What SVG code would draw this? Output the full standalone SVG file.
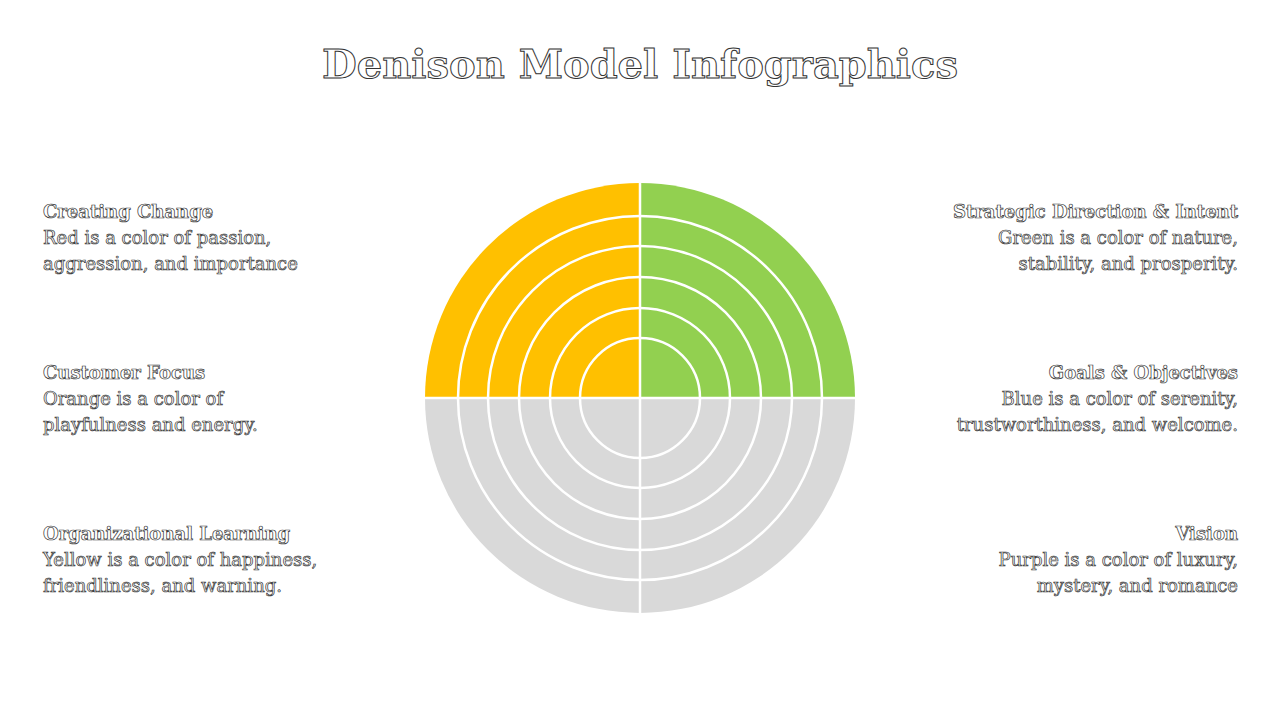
<svg xmlns="http://www.w3.org/2000/svg" width="1280" height="720" viewBox="0 0 1280 720">
<style>
.t{font-family:"DejaVu Serif","Liberation Serif",serif;fill:#fff;stroke:#333;stroke-width:0.7;font-size:18px}
.h{font-weight:bold}
.r{text-anchor:end}
.ring{fill:none;stroke:#fff;stroke-width:2.5}
</style>
<rect width="1280" height="720" fill="#fff"/>
<text class="t h" x="640" y="78" text-anchor="middle" style="font-size:40px;stroke-width:1">Denison Model Infographics</text>
<g id="chart">
<path d="M640,398 L425,398 A215,215 0 0 1 640,183 Z" fill="#FFC000"/>
<path d="M640,398 L640,183 A215,215 0 0 1 855,398 Z" fill="#92D050"/>
<path d="M425,398 A215,215 0 0 0 855,398 Z" fill="#D9D9D9"/>
<circle class="ring" cx="640" cy="398" r="182"/>
<circle class="ring" cx="640" cy="398" r="152"/>
<circle class="ring" cx="640" cy="398" r="121"/>
<circle class="ring" cx="640" cy="398" r="90"/>
<circle class="ring" cx="640" cy="398" r="60"/>
<line x1="640" y1="183" x2="640" y2="613" stroke="#fff" stroke-width="2.5"/>
<line x1="425" y1="398" x2="855" y2="398" stroke="#fff" stroke-width="2.5"/>
</g>
<g id="creating-change"><text class="t h" x="43" y="218">Creating Change</text><text class="t" x="43" y="244">Red is a color of passion,</text><text class="t" x="43" y="270">aggression, and importance</text></g>
<g id="customer-focus"><text class="t h" x="43" y="379">Customer Focus</text><text class="t" x="43" y="405">Orange is a color of</text><text class="t" x="43" y="431">playfulness and energy.</text></g>
<g id="org-learning"><text class="t h" x="43" y="540">Organizational Learning</text><text class="t" x="43" y="566">Yellow is a color of happiness,</text><text class="t" x="43" y="592">friendliness, and warning.</text></g>
<g id="strategic"><text class="t h r" x="1238" y="218">Strategic Direction &amp; Intent</text><text class="t r" x="1238" y="244">Green is a color of nature,</text><text class="t r" x="1238" y="270">stability, and prosperity.</text></g>
<g id="goals"><text class="t h r" x="1238" y="379">Goals &amp; Objectives</text><text class="t r" x="1238" y="405">Blue is a color of serenity,</text><text class="t r" x="1238" y="431">trustworthiness, and welcome.</text></g>
<g id="vision"><text class="t h r" x="1238" y="540">Vision</text><text class="t r" x="1238" y="566">Purple is a color of luxury,</text><text class="t r" x="1238" y="592">mystery, and romance</text></g>
</svg>
